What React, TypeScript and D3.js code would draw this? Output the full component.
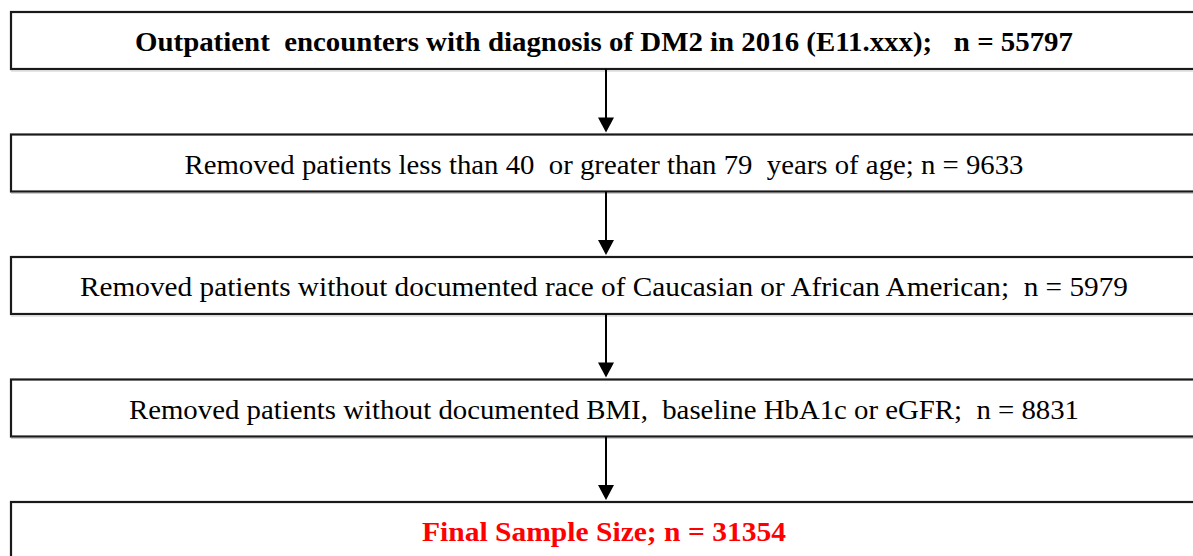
import React from "react";
import * as d3 from "d3";

// flowchart steps
const stepLabels: string[] = [
  "Outpatient  encounters with diagnosis of DM2 in 2016 (E11.xxx);   n = 55797",
  "Removed patients less than 40  or greater than 79  years of age; n = 9633",
  "Removed patients without documented race of Caucasian or African American;  n = 5979",
  "Removed patients without documented BMI,  baseline HbA1c or eGFR;  n = 8831",
  "Final Sample Size; n = 31354",
];
const stepCounts: number[] = [55797, 9633, 5979, 8831, 31354];
const stepKinds: string[] = ["start", "removed", "removed", "removed", "final"];

const W = 1193;
const H = 556;
const boxLeft = 11;
const boxRight = 1196;
const boxH = 57;
const cx = 606;
// measured text widths in the picture
const textW = [938, 839, 1048, 950, 364];

export default function App() {
  const y = d3.scaleLinear().domain([0, stepLabels.length - 1]).range([12, 502]);

  const arrowHead = (x: number, tip: number) => {
    const p = d3.path();
    p.moveTo(x - 8, tip - 15);
    p.lineTo(x + 8, tip - 15);
    p.lineTo(x, tip);
    p.closePath();
    return p.toString();
  };

  return (
    <svg width={W} height={H} style={{ position: "absolute", left: 0, top: 0, background: "#fff" }}>
      {stepLabels.map((label, i) => {
        const top = y(i);
        const bold = stepKinds[i] !== "removed";
        return (
          <g key={i} data-n={stepCounts[i]}>
            <rect x={boxLeft} y={top} width={boxRight - boxLeft} height={boxH}
              fill="#fff" stroke="#1a1a1a" strokeWidth={2.2} />
            <line x1={boxLeft} x2={boxRight} y1={top + boxH + 2} y2={top + boxH + 2} stroke="#ccc" strokeWidth={1} />
            <text x={cx - 2} y={top + boxH / 2 + 10.5} textAnchor="middle"
              fontFamily="'Liberation Serif', 'Times New Roman', serif"
              fontSize={bold ? 27 : 28} fontWeight={bold ? "bold" : "normal"}
              fill={stepKinds[i] === "final" ? "#ff0000" : "#000"}
              style={{ whiteSpace: "pre" }}
              textLength={textW[i]} lengthAdjust="spacingAndGlyphs">
              {label}
            </text>
          </g>
        );
      })}
      {d3.range(stepLabels.length - 1).map((i) => {
        const from = y(i) + boxH;
        const to = y(i + 1);
        return (
          <g key={"a" + i}>
            <line x1={cx} x2={cx} y1={from} y2={to - 12} stroke="#000" strokeWidth={2} />
            <path d={arrowHead(cx, to - 2)} fill="#000" />
          </g>
        );
      })}
    </svg>
  );
}
